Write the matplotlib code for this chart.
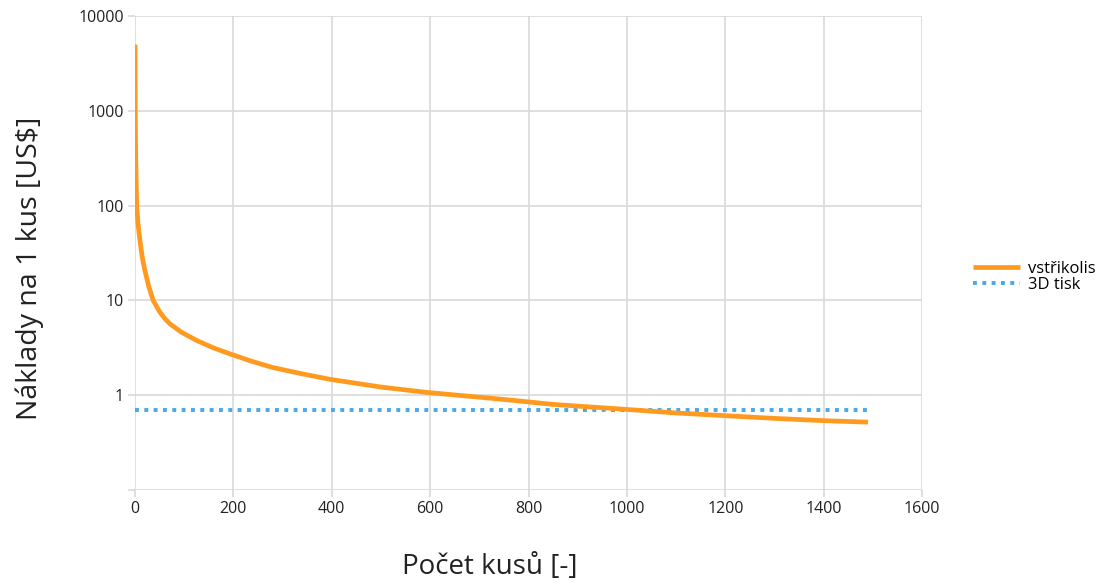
import matplotlib
matplotlib.use('Agg')
import matplotlib.pyplot as plt
from matplotlib.ticker import FixedLocator, NullLocator, FixedFormatter

plt.rcParams['font.family'] = ['Open Sans', 'DejaVu Sans']

# values
pieces = [0.1, 0.5, 1.5, 3.4, 6, 10, 15, 20, 28, 37, 50, 60, 71, 95, 126,
          160, 194, 235, 280, 340, 397, 500, 594, 743, 850, 997, 1100, 1196,
          1300, 1397, 1490]
cost_injection = [5000, 1000, 300, 100, 65, 43, 28, 20.8, 14, 10, 7.6, 6.5,
                  5.66, 4.6, 3.77, 3.15, 2.72, 2.3, 1.96, 1.68, 1.47, 1.22,
                  1.07, 0.91, 0.8, 0.71, 0.65, 0.61, 0.57, 0.54, 0.52]
pieces_print = [0, 1490]
cost_print = [0.7, 0.7]

x_ticks = [0, 200, 400, 600, 800, 1000, 1200, 1400, 1600]
y_ticks = [0.1, 1, 10, 100, 1000, 10000]
y_tick_labels = ['', '1', '10', '100', '1000', '10000']

grid_col = '#d9d9d9'

fig = plt.figure(figsize=(11.03, 5.82), dpi=100)
ax = fig.add_axes([0.1224, 0.158, 0.7136, 0.8145])

ax.plot(pieces, cost_injection, color='#ff9a1f', lw=3.4, label='vstřikolis',
        solid_capstyle='butt', solid_joinstyle='round', zorder=3)
ax.plot(pieces_print, cost_print, color='#4aa8e8', lw=2.8, ls=(0, (1, 1.4)),
        label='3D tisk', zorder=2)

ax.set_yscale('log')
ax.set_xlim(0, 1600)
ax.set_ylim(0.1, 10000)
ax.xaxis.set_major_locator(FixedLocator(x_ticks))
ax.yaxis.set_major_locator(FixedLocator(y_ticks))
ax.yaxis.set_major_formatter(FixedFormatter(y_tick_labels))
ax.yaxis.set_minor_locator(NullLocator())

ax.grid(True, color=grid_col, lw=1.2)
ax.set_axisbelow(True)
for s in ax.spines.values():
    s.set_visible(False)
ax.tick_params(axis='both', color=grid_col, length=5, width=1.2,
               labelsize=11.5, labelcolor='#222222', pad=3)

fig.text(490 / 1103, 1 - 567 / 582, 'Počet kusů [-]', fontsize=20,
         ha='center', va='center', color='#222222')
fig.text(30 / 1103, 1 - 268 / 582, 'Náklady na 1 kus [US$]', fontsize=20.5,
         ha='center', va='center', rotation=90, color='#222222')

fig.legend(loc='center left', bbox_to_anchor=(973 / 1103, 1 - 277 / 582),
           frameon=False, fontsize=12, handlelength=2.8, handletextpad=0.5,
           labelspacing=0.0, borderaxespad=0, borderpad=0)

fig.savefig('out.png', dpi=100)
